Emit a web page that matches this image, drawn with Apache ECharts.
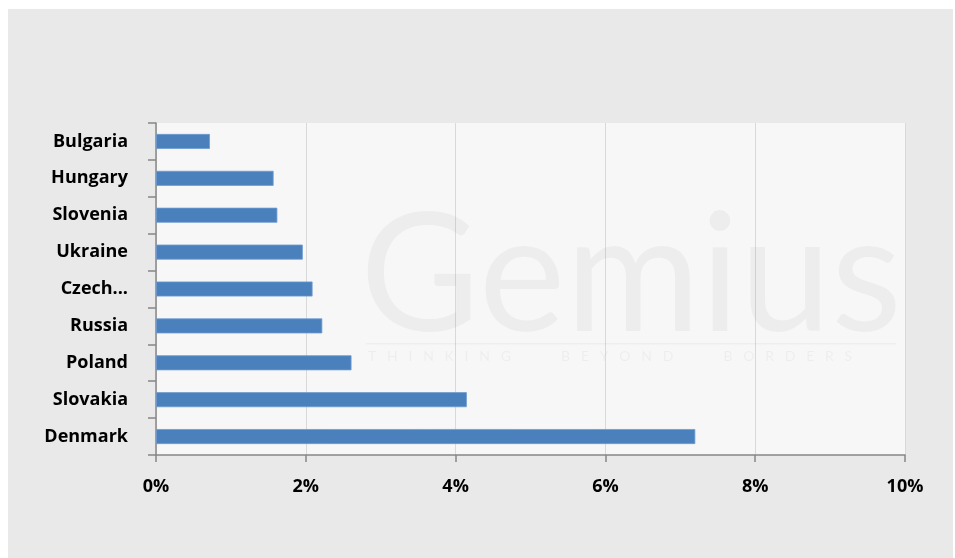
<!DOCTYPE html>
<html>
<head>
<meta charset="utf-8">
<script src="https://cdn.jsdelivr.net/npm/echarts@6/dist/echarts.min.js"></script>
<style>
html,body{margin:0;padding:0;background:#ffffff;}
#wrap{position:absolute;left:0;top:0;width:955px;height:558px;}
</style>
</head>
<body>
<div id="wrap"></div>
<script>
// Data
const categories = ['Bulgaria', 'Hungary', 'Slovenia', 'Ukraine', 'Czech...', 'Russia', 'Poland', 'Slovakia', 'Denmark'];
const values = [0.72, 1.57, 1.62, 1.96, 2.09, 2.22, 2.61, 4.15, 7.20];
const xTicks = { min: 0, max: 10, interval: 2 };

const chart = echarts.init(document.getElementById('wrap'), null, { renderer: 'canvas' });
const labelFont = { fontFamily: 'Open Sans', fontWeight: 'bold', fontSize: 18, color: '#000000' };

chart.setOption({
  animation: false,
  backgroundColor: '#ffffff',
  graphic: [
    { type: 'rect', z: -10, silent: true, shape: { x: 8, y: 9, width: 945, height: 549 }, style: { fill: '#e9e9e9' } },
    { type: 'text', z: 1, silent: true, left: 360, top: 196,
      style: { text: 'Gemius', fontFamily: 'Lato', fontSize: 164, fill: 'rgba(0,0,0,0.04)' } },
    { type: 'rect', z: 1, silent: true, shape: { x: 366, y: 343, width: 530, height: 1.5 }, style: { fill: 'rgba(0,0,0,0.035)' } },
    { type: 'text', z: 1, silent: true, left: 368, top: 349,
      style: { text: 'T   H   I   N   K   I   N   G              B   E   Y   O   N   D              B   O   R   D   E   R   S', fontFamily: 'Lato', fontSize: 14, fill: 'rgba(0,0,0,0.04)' } }
  ],
  grid: {
    left: 156, right: 50, top: 123, bottom: 103,
    show: true, backgroundColor: '#f7f7f7', borderWidth: 0
  },
  xAxis: {
    type: 'value',
    min: xTicks.min, max: xTicks.max, interval: xTicks.interval,
    axisLine: { show: true, lineStyle: { color: '#878787', width: 1.5 } },
    axisTick: { show: true, length: 7, lineStyle: { color: '#878787', width: 1.5 } },
    splitLine: { show: true, lineStyle: { color: '#d9d9d9', width: 1 } },
    axisLabel: Object.assign({ margin: 23, formatter: v => v + '%' }, labelFont)
  },
  yAxis: {
    type: 'category',
    data: categories,
    inverse: true,
    axisLine: { show: true, lineStyle: { color: '#878787', width: 1.5 } },
    axisTick: { show: true, length: 8, lineStyle: { color: '#878787', width: 1.5 } },
    splitLine: { show: false },
    axisLabel: Object.assign({ margin: 28, padding: [3, 0, 0, 0] }, labelFont)
  },
  series: [{
    type: 'bar',
    data: values,
    barWidth: 15,
    itemStyle: { color: '#4a81bd', borderColor: '#6f9bd0', borderWidth: 0.8 }
  }]
});
</script>
</body>
</html>
